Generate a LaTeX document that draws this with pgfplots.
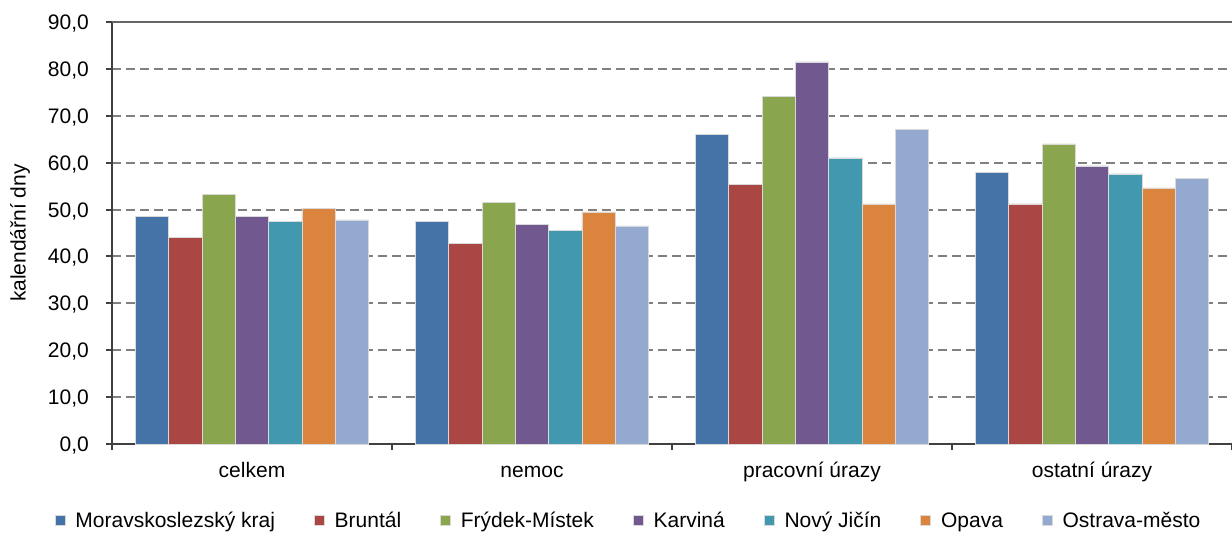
\documentclass[border=0pt]{standalone}
\usepackage{pgfplots}
\pgfplotsset{compat=1.18}
\usepackage{fontspec}
\setmainfont{Liberation Sans}
\definecolor{c1}{HTML}{4572A7}
\definecolor{c2}{HTML}{AA4643}
\definecolor{c3}{HTML}{89A54E}
\definecolor{c4}{HTML}{71588F}
\definecolor{c5}{HTML}{4198AF}
\definecolor{c6}{HTML}{DB843D}
\definecolor{c7}{HTML}{93A9CF}
\definecolor{axgray}{HTML}{404040}
\definecolor{gridgray}{HTML}{808080}
\begin{document}
\begin{tikzpicture}
\begin{axis}[
  name=ax,
  scale only axis,
  width=1120pt, height=422pt,
  font=\fontsize{21}{25}\selectfont,
  xmin=-0.5, xmax=3.5, ymin=0, ymax=90,
  axis x line*=bottom, axis y line*=left,
  axis line style={axgray, line width=2pt},
  ybar=0pt, bar width=0.119,
  xtick={-0.5,0.5,1.5,2.5,3.5},
  xticklabels={,,,,},
  extra x ticks={0,1,2,3},
  extra x tick labels={celkem, nemoc, pracovní úrazy, ostatní úrazy},
  extra x tick style={major tick length=0pt},
  major tick length=6pt,
  tick align=outside,
  tick pos=left,
  tick style={axgray, line width=2pt},
  ytick={0,10,...,80},
  extra y ticks={90},
  extra y tick style={grid style={solid, color=gridgray!80!black, line width=2pt}},
  ymajorgrids,
  grid style={gridgray, line width=2pt, dash pattern=on 9pt off 5pt},
  /pgf/number format/fixed,
  /pgf/number format/fixed zerofill,
  /pgf/number format/precision=1,
  /pgf/number format/use comma,
  /pgf/number format/assume math mode=true,
  yticklabel style={inner sep=0pt, anchor=east, xshift=-17pt, text height=15pt, text depth=0pt},
  xticklabel style={inner sep=0pt, anchor=north, yshift=-18pt, text height=15pt, text depth=5pt},
  ylabel={kalendářní dny},
  ylabel style={at={(axis description cs:-0.0821,0.5)}, anchor=center},
  legend columns=7,
  legend image code/.code={\fill[#1] (0pt,-5pt) rectangle (10pt,5pt);},
  legend style={draw=none, fill=none, inner sep=0pt, outer sep=0pt,
    at={(axis description cs:0.4603,-0.1801)}, anchor=center,
    nodes={inner sep=0pt, text height=15pt, text depth=0pt, anchor=west},
    /tikz/every odd column/.append style={column sep=10pt},
    /tikz/every even column/.append style={column sep=39pt}},
  every axis plot/.append style={draw=white!85!black, line width=0.7pt},
]
\addplot[fill=c1] coordinates {(0,48.6) (1,47.4) (2,66.1) (3,58.0)};
\addplot[fill=c2] coordinates {(0,44.0) (1,42.7) (2,55.4) (3,51.2)};
\addplot[fill=c3] coordinates {(0,53.3) (1,51.6) (2,74.2) (3,64.0)};
\addplot[fill=c4] coordinates {(0,48.6) (1,46.9) (2,81.5) (3,59.3)};
\addplot[fill=c5] coordinates {(0,47.4) (1,45.6) (2,61.0) (3,57.6)};
\addplot[fill=c6] coordinates {(0,50.3) (1,49.5) (2,51.2) (3,54.6)};
\addplot[fill=c7] coordinates {(0,47.8) (1,46.5) (2,67.0) (3,56.7)};
\legend{Moravskoslezský kraj, Bruntál, Frýdek-Místek, Karviná, Nový Jičín, Opava, Ostrava-město}
\end{axis}
\pgfresetboundingbox
\path[use as bounding box] ([shift={(-112pt,-88pt)}]ax.south west) rectangle ([shift={(0pt,22pt)}]ax.north east);
\end{tikzpicture}
\end{document}
